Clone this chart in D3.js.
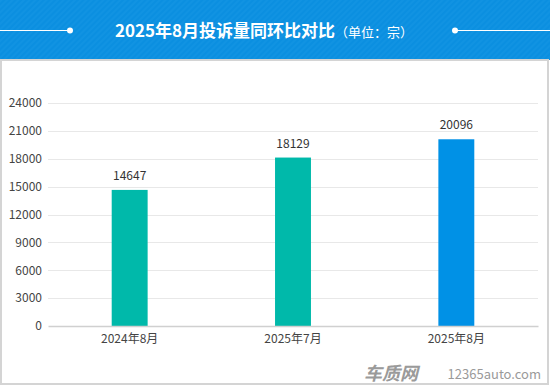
<!DOCTYPE html>
<html>
<head>
<meta charset="utf-8">
<script src="https://cdn.jsdelivr.net/npm/d3@7"></script>
<style>
  body { margin: 0; background: #fff; }
  svg { display: block; font-family: "Microsoft YaHei", "Noto Sans CJK SC", sans-serif; }
</style>
</head>
<body>
<div id="chart"></div>
<script>
const categories = ["2024年8月", "2025年7月", "2025年8月"];
const values = [14647, 18129, 20096];
const barColors = ["#00b9aa", "#00b9aa", "#0091e6"];
const yTicks = [0, 3000, 6000, 9000, 12000, 15000, 18000, 21000, 24000];

const width = 550;
const height = 386;
const headerHeight = 60;
const marginLeft = 48;
const marginRight = 12;
const marginTop = 103;
const baseY = 326;

const svg = d3.select("#chart")
    .append("svg")
    .attr("width", width)
    .attr("height", height);

// striped header pattern
const defs = svg.append("defs");
const pat = defs.append("pattern")
    .attr("id", "stripes")
    .attr("width", 4)
    .attr("height", 4)
    .attr("patternUnits", "userSpaceOnUse")
    .attr("patternTransform", "rotate(45)");
pat.append("rect").attr("width", 4).attr("height", 4).attr("fill", "#0b8fe0");
pat.append("rect").attr("width", 2).attr("height", 4).attr("fill", "#1193e2");

svg.append("rect")
    .attr("width", width)
    .attr("height", headerHeight)
    .attr("fill", "url(#stripes)");

// frame
svg.append("rect")
    .attr("x", 1)
    .attr("y", headerHeight)
    .attr("width", width - 3)
    .attr("height", height - headerHeight - 2)
    .attr("fill", "none")
    .attr("stroke", "#d4d4d4")
    .attr("stroke-width", 2);

// header decoration lines
svg.append("line").attr("x1", 0).attr("x2", 70).attr("y1", 30.5).attr("y2", 30.5)
    .attr("stroke", "#fff").attr("stroke-width", 1.2);
svg.append("circle").attr("cx", 70).attr("cy", 30.5).attr("r", 3).attr("fill", "#fff");
svg.append("line").attr("x1", 455).attr("x2", 550).attr("y1", 30.5).attr("y2", 30.5)
    .attr("stroke", "#fff").attr("stroke-width", 1.2);
svg.append("circle").attr("cx", 455).attr("cy", 30.5).attr("r", 3).attr("fill", "#fff");

const title = svg.append("text")
    .attr("x", 264)
    .attr("y", 37)
    .attr("text-anchor", "middle")
    .attr("fill", "#fff");
title.append("tspan")
    .style("font-size", "17px")
    .style("font-weight", "bold")
    .text("2025年8月投诉量同环比对比");
title.append("tspan")
    .style("font-size", "13px")
    .text("（单位：宗）");

// scales
const x = d3.scaleBand()
    .domain(categories)
    .range([marginLeft, width - marginRight])
    .paddingInner(0.78)
    .paddingOuter(0.39);

const y = d3.scaleLinear()
    .domain([0, 24000])
    .range([baseY, marginTop]);

// grid lines
svg.append("g")
    .selectAll("line")
    .data(yTicks.filter(d => d > 0))
    .enter()
    .append("line")
    .attr("x1", marginLeft)
    .attr("x2", width - marginRight)
    .attr("y1", d => Math.round(y(d)) + 0.5)
    .attr("y2", d => Math.round(y(d)) + 0.5)
    .attr("stroke", "#e8e8e8")
    .attr("stroke-width", 1);

// y axis
const yAxis = svg.append("g")
    .attr("transform", `translate(${marginLeft},0)`)
    .call(d3.axisLeft(y).tickValues(yTicks).tickFormat(d3.format("d")).tickSize(0).tickPadding(6));
yAxis.select(".domain").remove();
yAxis.selectAll("text")
    .style("font-size", "12px")
    .style("font-family", "\"Microsoft YaHei\", \"Noto Sans CJK SC\", sans-serif")
    .attr("fill", "#444");

// bars
svg.append("g")
    .selectAll("rect")
    .data(values)
    .enter()
    .append("rect")
    .attr("x", (d, i) => x(categories[i]))
    .attr("width", x.bandwidth())
    .attr("y", d => y(d))
    .attr("height", d => baseY - y(d))
    .attr("fill", (d, i) => barColors[i]);

// value labels
svg.append("g")
    .selectAll("text")
    .data(values)
    .enter()
    .append("text")
    .attr("x", (d, i) => x(categories[i]) + x.bandwidth() / 2)
    .attr("y", d => y(d) - 10)
    .attr("text-anchor", "middle")
    .style("font-size", "12px")
    .attr("fill", "#333")
    .text(d => d);

// x axis
const xAxis = svg.append("g")
    .attr("transform", `translate(0,${baseY})`)
    .call(d3.axisBottom(x).tickSize(0).tickPadding(8));
xAxis.select(".domain")
    .attr("stroke", "#d0d0d0")
    .attr("stroke-width", 1.5);
xAxis.selectAll("text")
    .style("font-size", "12px")
    .style("font-family", "\"Microsoft YaHei\", \"Noto Sans CJK SC\", sans-serif")
    .attr("fill", "#444");

// watermark
svg.append("text")
    .attr("x", 418)
    .attr("y", 380)
    .attr("text-anchor", "end")
    .style("font-size", "18px")
    .style("font-weight", "bold")
    .style("font-style", "italic")
    .attr("fill", "#9a9a9a")
    .text("车质网");
svg.append("text")
    .attr("x", 541)
    .attr("y", 379)
    .attr("text-anchor", "end")
    .style("font-size", "13px")
    .attr("fill", "#9a9a9a")
    .text("12365auto.com");
</script>
</body>
</html>
